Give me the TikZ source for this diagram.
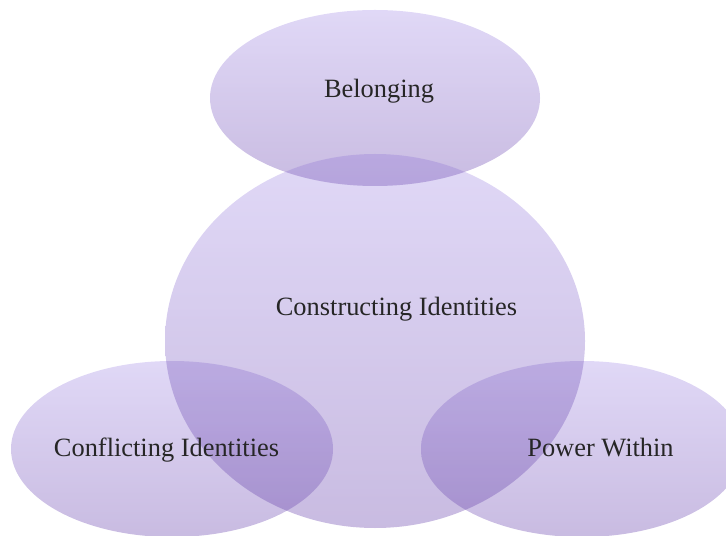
\documentclass[tikz,border=0pt]{standalone}
\usepackage{fontspec}
\setmainfont{Liberation Serif}
\usetikzlibrary{shapes.geometric}
\definecolor{lavtop}{RGB}{200,186,240}
\definecolor{lavbot}{RGB}{158,134,202}
\definecolor{lavdeep}{RGB}{120,90,180}
\tikzset{
  % Overlapping bubbles
  bubble/.style     = { ellipse, inner sep=0, top color=lavtop, bottom color=lavbot,
                        fill opacity=0.56, draw=none },
  overlap/.style    = { fill=lavdeep, fill opacity=0.2 },
  bubbletext/.style = { font=\fontsize{13.2}{16}\selectfont, text=black!85,
                        inner sep=0, anchor=base }
}
\begin{document}
\begin{tikzpicture}[x=0.5pt, y=0.5pt]

  % --- Canvas (one unit = one pixel of the reference) ---------------
  \useasboundingbox (0,0) rectangle (726,535);

  % --- Bubbles -----------------------------------------------------
  \node[bubble, minimum width=165pt, minimum height=88pt]   (belong)   at (375,437) {};
  \node[bubble, minimum width=210pt, minimum height=187pt]  (core)     at (375,194) {};
  \node[bubble, minimum width=161pt, minimum height=88pt]   (conflict) at (172,86)  {};
  \node[bubble, minimum width=161pt, minimum height=88pt]   (power)    at (582,86)  {};

  % --- Deeper tint where a bubble meets the core --------------------
  \foreach \n/\rx/\ry in {belong/165/88, conflict/161/88, power/161/88} {
    \begin{scope}
      \clip (\n.center) ellipse [x radius=\rx, y radius=\ry];
      \fill[overlap] (core.center) ellipse [x radius=210, y radius=187];
    \end{scope}
  }

  % --- Labels (placed on their baselines) ---------------------------
  \node[bubbletext] (belonglabel)   at (379,437)   {Belonging};
  \node[bubbletext] (corelabel)     at (396.5,219) {Constructing Identities};
  \node[bubbletext] (conflictlabel) at (166.5,79)  {Conflicting Identities};
  \node[bubbletext] (powerlabel)    at (600.5,79)  {Power Within};

\end{tikzpicture}
\end{document}
